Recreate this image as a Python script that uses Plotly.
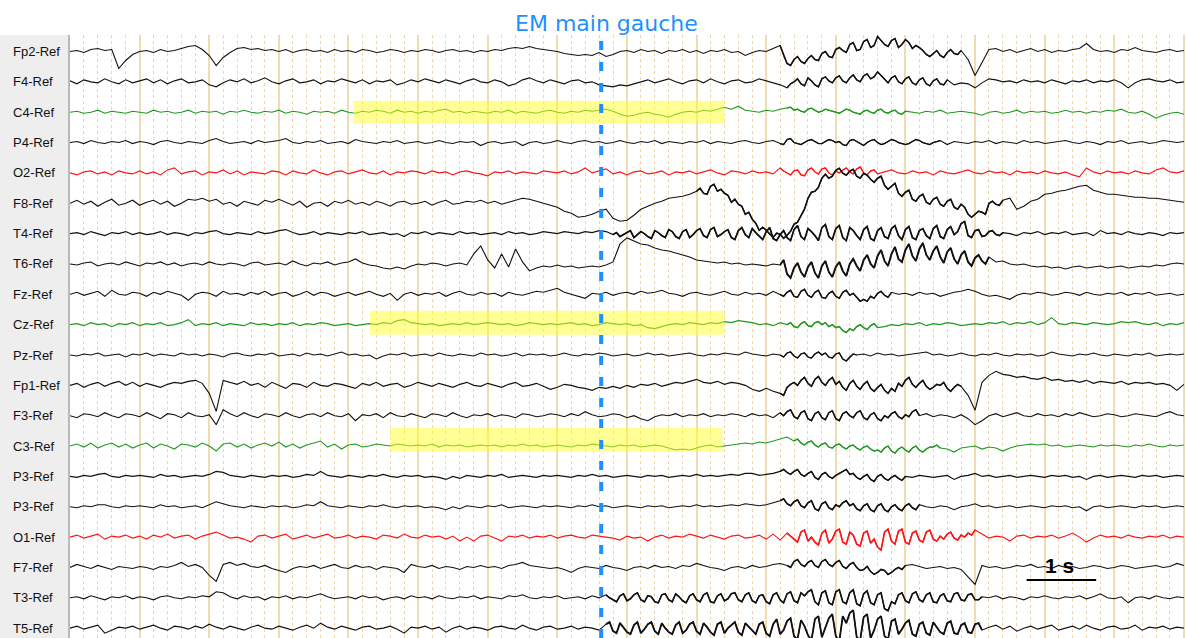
import plotly.graph_objects as go

# ---------------- data ----------------
sample_step = 0.1  # seconds between samples

channel_names = ["Fp2-Ref", "F4-Ref", "C4-Ref", "P4-Ref", "O2-Ref", "F8-Ref", "T4-Ref", "T6-Ref",
                 "Fz-Ref", "Cz-Ref", "Pz-Ref", "Fp1-Ref", "F3-Ref", "C3-Ref", "P3-Ref", "P3-Ref",
                 "O1-Ref", "F7-Ref", "T3-Ref", "T5-Ref"]
channel_groups = ["k", "k", "g", "k", "r", "k", "k", "k", "k", "g", "k", "k", "k", "g", "k", "k",
                  "r", "k", "k", "k"]

fp2 = [0, 1, -1, 2, 3, 1, 2, -17, -9, -3,
       0, 1, -1, 2, 0, 1, 3, 5, 6, 2,
       -4, -14, -6, -1, 3, 4, 2, 3, 1, 2,
       0, 2, -1, 1, 2, 0, 1, -1, 2, 0,
       1, -1, 2, 1, -1, 0, 2, 1, -1, 1,
       0, 2, 1, -1, 1, 2, 0, 1, -1, 1,
       0, 2, 1, 3, 4, 3, 5, 3, 2, 1,
       0, -2, -3, -4, -3, -4, -1, -5, -3, 0,
       1, -1, 2, 0, 1, -2, 1, 0, 2, -1,
       1, -2, 1, 0, 2, -1, 0, -4, -1, 1,
       0, 3, 6, -12, -8, -10, -7, -8, -2, -5,
       2, 1, 7, 1, 10, 4, 15, 7, 11, 4,
       12, 3, 4, -3, -2, -4, -1, -2, 1, -8,
       -24, -11, 2, 3, 0, 2, -1, 1, 3, 0,
       2, -1, 1, 0, 2, 3, 8, 2, 0, 1,
       -1, 2, 1, 4, 1, 0, -1, 1, 2, 0,
       1]
f4 = [1, -2, 2, 0, -1, 3, 0, -2, 2, -1,
      1, 3, -1, 2, -2, 1, 3, -1, 0, 2,
      -3, -5, -1, 2, 0, 3, -1, 1, 4, 0,
      -2, 1, 3, -1, 0, 2, -2, 1, 0, 3,
      1, -1, 2, -2, 1, 0, 2, -3, -1, 2,
      0, 3, 1, -1, 2, 0, -2, 1, 3, 0,
      -1, 2, 0, -4, -2, 2, 4, 1, -1, 2,
      0, -2, 1, 2, -1, 0, -3, -4, -5, -3,
      -4, -2, 0, 2, -1, 1, 3, 0, -2, 1,
      2, -1, 3, 0, -2, 1, 2, -1, 0, 3,
      1, -1, -3, -6, 0, -2, 4, -3, 3, 1,
      4, 1, 4, 2, 6, 3, 10, 2, 4, 0,
      3, -1, 2, -2, 1, -2, 2, -3, -1, -2,
      -6, -1, 3, 2, 0, 1, -1, 2, 0, 1,
      -1, 2, 0, -2, 1, 0, 2, -1, 1, 0,
      2, -1, -6, -1, 2, 3, 1, 0, 2, -1,
      0]
c4 = [0, 1, -1, 0, 2, -1, 1, 0, -1, 1,
      0, -1, 2, 0, 1, -1, 0, 2, -1, 1,
      0, 1, -2, 1, 0, 2, 0, -1, 1, 0,
      2, -1, 1, 0, -2, 1, 0, 1, -1, 2,
      0, -1, 1, 0, 2, 1, -1, 2, 0, 1,
      -1, 1, 0, 2, 3, 0, 1, -1, 1, 0,
      -1, 1, 0, 2, -1, 1, 0, -1, 1, 2,
      0, -1, 1, 0, 2, 1, 2, 3, 1, -2,
      -4, -3, -1, 0, -2, -3, -5, -2, 0, 1,
      0, 2, 1, 3, 5, 3, 6, 2, 1, 0,
      2, 1, 3, 4, 2, 1, 3, 2, 1, 2,
      0, 1, 2, -1, 1, 0, 2, 0, 1, -1,
      1, 0, -1, 1, 0, 2, -1, 0, 1, 0,
      -1, -3, 0, 1, -1, 0, 2, -1, 1, 0,
      1, -1, 0, 2, 0, 1, -1, 1, 0, 2,
      1, 3, 0, -1, 1, -2, -6, -3, -1, 0,
      -2]
p4 = [0, 1, -1, 2, 0, -1, 1, 0, 2, -1,
      1, 0, -2, 1, 2, 0, -1, 1, 0, -1,
      2, 4, 1, -1, 0, 1, -1, 2, 0, 1,
      2, 4, 0, -1, 1, 0, 2, -1, 0, 1,
      -1, 3, 1, 0, -1, 1, 0, 2, -1, 0,
      1, -1, 0, 2, 0, -1, 1, 0, 1, -3,
      0, 1, -1, 0, 1, -3, 0, 1, -1, 0,
      2, 0, -1, 1, 2, 0, 1, -1, 0, 2,
      0, -1, 1, 0, 2, -1, 1, 0, -1, 1,
      0, 2, -1, 1, 0, -1, 1, 2, 0, -1,
      1, 2, -1, 3, 0, -2, 2, 1, -1, 3,
      0, -2, 2, 1, -3, 2, 0, -1, 3, 0,
      -2, 1, 2, -1, 0, 2, -2, 1, 0, -1,
      1, 0, 2, -1, 1, 0, -1, 2, 0, 1,
      -1, 0, 1, 2, 0, -1, 1, 0, -2, 1,
      0, 2, -1, 0, 1, -1, 0, 2, 1, 0,
      1]
o2 = [0, -2, 1, 2, -1, 1, -2, 2, 0, -1,
      2, -1, 1, -2, 3, 5, -1, 1, 2, -2,
      1, 0, 3, -1, 2, -2, 1, 0, -1, 2,
      1, -2, 2, 0, -1, 3, 0, -2, 1, 2,
      -1, 1, 3, 0, -1, 2, -2, 1, 0, 2,
      1, -1, 2, 0, 1, -2, 1, 2, 0, -1,
      -3, 1, 0, 2, -1, 1, 0, -1, 2, 1,
      0, 2, -1, 1, 5, 0, 2, 4, -1, 1,
      -2, 1, 2, -1, 0, 2, -2, 1, 0, 2,
      -1, 1, 3, 0, -2, 2, 1, -1, 2, 0,
      1, -1, 5, 0, 2, -2, 3, 1, 4, 0,
      2, 3, 1, 4, 0, 2, -1, 1, 3, 0,
      -1, 2, 0, 1, -2, 2, 0, -1, 1, 3,
      0, -1, 2, 0, 1, -2, 2, 0, 1, -1,
      2, 0, -1, 1, -2, -4, 5, 1, -1, 2,
      0, 1, -1, 2, 0, -1, 3, 5, 1, 0,
      2]
f8 = [0, 3, -1, 2, -3, 1, 4, -2, 0, 3,
      -2, 1, 3, -1, 2, -3, 0, 4, 3, 5,
      2, 4, -1, 1, -3, 2, 0, -2, 3, 1,
      4, 1, -2, 2, -4, 0, 1, -3, 2, 0,
      3, -1, 1, -2, 2, 0, -3, 1, 2, -1,
      0, 2, -2, 1, 3, -1, 0, 2, 1, 3,
      0, 2, -1, 1, 3, 5, 4, 2, 0, -2,
      -4, -8, -10, -14, -13, -11, -8, -6, -15, -18,
      -17, -12, -6, -3, 0, 2, 5, 6, 7, 9,
      12, 10, 17, 12, 10, 1, -1, -11, -16, -27,
      -27, -34, -31, -32, -21, -12, 5, 12, 25, 25,
      33, 30, 32, 27, 30, 24, 25, 18, 17, 10,
      11, 4, 7, 1, 4, -1, 2, -4, -1, -11,
      -11, -9, 0, -1, 3, 5, -6, -3, 2, 4,
      9, 10, 12, 13, 15, 17, 18, 13, 11, 9,
      9, 8, 7, 6, 6, 5, 5, 4, 3, 2,
      1]
t4 = [0, 1, -1, 2, 0, -2, 1, 0, 2, -1,
      1, -1, 0, 2, -1, 1, 0, -2, 1, 0,
      2, 3, 0, -1, 1, 0, -1, 2, 0, 1,
      3, 4, 1, -1, 0, 2, -1, 1, 0, -1,
      1, 0, 2, -1, 0, 1, -1, 0, -3, 1,
      0, 2, -1, 1, 0, -1, 2, 0, 1, -1,
      0, 1, -1, 2, 0, 1, -1, 0, 2, 1,
      0, 2, 1, 0, 2, 1, 3, 2, -1, -3,
      1, -4, 2, -3, 3, -2, 4, -3, 2, -4,
      3, -2, 4, -3, 2, -4, 3, -1, 5, -3,
      2, -5, -1, -4, 4, -3, 5, -2, 6, -3,
      5, -4, 6, -2, 4, -5, 3, -3, 5, -2,
      4, -4, 3, -2, 5, -3, 4, -1, 10, -2,
      3, -3, 2, -1, 1, 0, -2, 1, 0, 2,
      -1, 1, 0, 2, -1, 0, 1, -2, 3, 0,
      1, -1, 2, 0, -1, 1, 0, -2, 1, 0,
      1]
t6 = [0, -1, 1, 2, -2, 0, 1, -1, 2, 0,
      -2, 1, 0, 2, -1, 1, -2, 0, 1, -1,
      2, 0, -1, 1, 0, -2, 1, 2, -1, 0,
      1, -1, 3, 0, -2, 1, 0, 2, -1, 1,
      2, 5, 1, -1, -2, -4, -5, -3, -5, -2,
      0, -1, 1, 0, -2, 0, 1, -1, 10, 18,
      4, -4, 10, -3, 15, 2, -7, -4, -2, -3,
      -1, -3, -2, -4, -3, -2, -3, -1, 2, 20,
      26, 23, 20, 19, 16, 14, 13, 11, 9, 7,
      4, 3, 2, 1, 2, 0, 1, -1, 0, -1,
      -2, 0, -1, -10, -4, -8, -3, -9, -2, -8,
      -3, -7, 0, -2, 4, 0, 8, 3, 10, 5,
      14, 8, 15, 9, 13, 7, 12, 5, 9, 2,
      6, 3, 7, 2, 3, 0, -1, 0, -2, -3,
      -2, -4, -3, -5, -3, -2, -4, -3, -2, -4,
      -3, -2, -4, -3, -2, -3, -1, -2, 0, 1,
      0]
fz = [0, 2, -1, 1, 3, -2, 4, 0, -1, 2,
      1, -2, 2, 0, 3, 1, -1, -6, 0, 2,
      1, -2, 3, 0, 1, -1, 2, 0, 3, -1,
      1, 2, -2, 0, 3, -1, 2, 1, -2, 0,
      2, -1, 1, 3, 0, -2, 1, -6, 0, 2,
      -1, 1, 0, 2, -2, 1, 3, 0, -1, 2,
      0, 1, -2, 2, 0, -1, 1, 3, 2, 4,
      6, 2, 0, -2, -4, 1, 0, 2, -1, 1,
      2, 0, 3, 1, 2, 4, 1, 0, -2, 1,
      2, 0, -1, 1, 3, 0, -1, 2, 0, 1,
      -1, 3, 0, 2, -2, 3, -1, 2, -3, 1,
      -2, 2, -1, -3, -5, -2, 1, -1, 2, 0,
      1, -1, 2, 0, 1, -2, 0, 2, 3, 5,
      3, 0, -2, -1, -3, -5, -1, 1, 0, 2,
      1, -1, 0, 2, 1, -1, 2, 0, -1, 1,
      0, 2, -1, 1, 0, 2, -1, 0, 1, -1,
      0]
cz = [0, 1, -1, 2, 0, 1, -2, 1, 0, 2,
      -1, 1, 0, 2, -1, 0, 2, 5, -1, 1,
      0, 2, -1, 1, 0, -1, 2, 0, 1, -1,
      1, 0, 2, -1, 1, 0, 2, 1, -1, 0,
      1, -1, 0, 1, 0, 2, 1, 4, 5, 2,
      1, 0, 1, -1, 0, 1, 0, 2, 0, 1,
      2, 1, 0, 1, -1, 0, 2, 1, 0, 1,
      0, 1, 2, 0, 1, -1, 0, 2, 1, 0,
      1, -1, 0, -3, -4, -2, 0, 1, 0, 2,
      1, 0, 2, 1, 3, 2, 4, 3, 2, 0,
      1, -1, 2, 0, -2, 1, -1, 2, 0, -2,
      -3, -6, -4, -2, -3, -1, -3, -2, 0, -1,
      1, 0, 2, -1, 1, 0, 2, 1, -1, 0,
      1, 0, 2, 1, 3, 0, 2, 1, 3, 0,
      2, 7, 1, 0, 2, 1, 0, 2, 1, 0,
      1, 3, 2, 3, 1, 0, 2, -1, 1, 0,
      2]
pz = [0, -1, 1, 0, 2, -1, 0, 1, -2, 1,
      0, 2, -1, 1, 0, -1, 2, 0, 1, -1,
      1, 0, -2, 1, 2, 0, -1, 1, 0, 2,
      -1, 0, 1, -1, 2, 0, 1, -1, 1, 3,
      0, 1, -1, 0, -4, -1, 1, 0, 2, -1,
      0, 1, -1, 2, 0, -1, 1, 0, -1, 2,
      0, 1, -1, 0, 2, -1, 1, 0, 1, -1,
      0, 2, 0, -1, 1, 0, 2, 1, -1, 0,
      1, -1, 0, 2, 0, 1, -1, 0, 1, 2,
      0, -1, 1, 0, 2, 1, 0, 3, 1, 0,
      -1, 1, 0, 2, -1, 1, -2, 1, 0, -2,
      1, -4, -2, 0, 1, -1, 2, 0, 1, -1,
      0, 1, 2, 3, 0, 1, -1, 0, 2, 0,
      -1, 1, 0, 2, 0, -1, 1, 0, 1, -1,
      0, 3, 1, 0, -1, 1, 0, 2, 0, -1,
      1, 0, -1, 1, 0, 2, -1, 0, 1, 0,
      1]
fp1 = [0, 2, -2, 1, 3, -1, 2, 4, 0, 3,
       -1, 2, 0, -2, 1, 3, 2, 4, 5, 2,
       -8, -26, 5, 3, 1, 4, 0, 2, -2, 3,
       0, -3, 2, 1, -2, 3, 0, -1, 2, 1,
       -1, -3, 2, 0, 3, -1, 1, 2, -2, 0,
       3, 1, -1, 2, 0, -2, 1, 3, 0, -1,
       2, 0, -2, 1, 3, -1, 0, 2, -1, -4,
       -2, 1, 0, -2, -3, -5, -2, -3, -1, -3,
       0, -2, 1, 0, 2, -1, 1, 3, 2, 4,
       6, 3, 2, 4, 1, 3, 2, 0, -4, -6,
       -3, -6, -8, -2, 3, 5, 2, 6, 3, 5,
       1, -2, 2, -1, 1, -3, -2, -5, -3, 2,
       5, 1, 2, -1, -2, 0, -3, -2, -1, -10,
       -25, 3, 10, 14, 11, 10, 8, 9, 7, 6,
       8, 5, 6, 4, 5, 3, 5, 2, 4, 3,
       2, 4, 1, 3, 2, 3, 1, 2, 0, -5,
       1]
f3 = [0, -2, 2, 1, -1, 3, 0, -2, 2, 1,
      -1, 3, 0, -3, 2, 1, -2, 3, 0, -1,
      1, -9, 6, 2, -1, 3, 0, -2, 2, 1,
      -1, 3, 0, -2, 1, 2, -1, 3, 0, -1,
      2, -5, 1, 0, 2, -2, 3, 0, -1, 2,
      0, -2, 2, 1, -1, 3, 0, -2, 1, 0,
      2, -1, 1, 0, -2, 2, 1, -1, 0, 2,
      1, -1, 2, 0, 4, 1, -1, 0, 2, 1,
      -2, 0, -3, -5, -1, 1, 0, 2, -1, 1,
      0, 2, -1, 1, 0, 2, 1, -1, 2, 0,
      1, -2, 3, 4, -1, 3, -3, 2, -2, 3,
      -3, 2, 0, 3, -2, 1, -3, 0, 2, -1,
      1, 4, 0, 2, -1, 1, 0, -2, 1, -3,
      -9, -5, 0, 2, -1, 1, 3, 0, -1, 2,
      0, 1, -1, 2, 0, 3, 1, -1, 0, 2,
      1, -1, 0, 2, 1, 0, -1, 2, 4, 1,
      0]
c3 = [0, 2, -1, 3, -2, 1, 3, -1, 2, -2,
      1, 3, -2, 2, 0, -3, 2, 1, -1, 3,
      0, -5, 2, 3, -1, 2, -2, 1, 3, 0,
      4, -1, 2, -2, 1, 3, 5, -1, 2, -3,
      1, 2, -1, 0, 2, 1, 0, 2, 1, 0,
      1, 0, 2, -1, 1, 0, 1, -1, 0, 1,
      0, 1, -1, 1, 0, 2, 0, 1, -1, 0,
      1, 0, -1, 1, 0, 2, 1, 0, -1, 1,
      0, 1, -1, 0, 1, 0, -2, -4, -3, -4,
      -2, 0, 1, -1, 0, 1, 2, 3, 2, 4,
      3, 5, 7, 9, 5, 3, 4, 1, 2, -1,
      1, -1, 0, -2, -1, -3, -4, -2, -5, -3,
      -4, -2, -4, -3, -1, -2, -3, -6, -2, -1,
      0, -3, -1, -2, -5, -2, 0, 1, 2, 1,
      2, 0, 1, -1, 0, 1, 0, -1, 1, 0,
      1, 0, -1, 1, 0, 2, 0, -1, 1, 0,
      1]
p3_a = [0, -1, 1, 0, 2, 3, 0, -1, 1, 0,
        1, 0, -1, 2, 0, 1, -1, 0, 1, 0,
        2, 5, 4, 1, 0, -1, 1, 0, -1, 1,
        0, 1, -1, 0, 2, 1, 5, 1, 0, -1,
        1, 0, -1, 1, 0, 2, 0, -1, 1, 0,
        1, -1, 0, -1, -3, 0, -2, 1, 0, -1,
        1, 0, 2, -1, 0, 1, 0, -1, 1, 0,
        1, 0, -1, 1, 0, 2, 0, 1, -1, 0,
        1, 0, -1, 1, 0, 1, -1, 0, 1, 0,
        2, 0, 1, 0, 1, 2, 1, 3, 3, 1,
        2, 3, 5, 4, 5, 2, 3, -1, 2, 0,
        1, 5, 2, -1, 0, -3, 0, -2, -1, -2,
        0, -1, 1, 0, -1, 0, 1, -3, 0, 1,
        3, 0, 1, -1, 0, 1, -1, 0, 1, 0,
        -1, 1, 0, 1, -1, 0, -3, 0, 1, -1,
        0, 1, 0, -1, 1, 0, 1, -1, 0, 1,
        0]
p3_b = [0, -1, 1, 0, 2, 2, 0, -1, 1, 0,
        1, 0, -1, 2, 0, 1, -1, 0, 1, -1,
        2, 5, 3, 1, 0, -1, 1, 0, -1, 1,
        0, 1, -1, 0, 2, 1, 5, 1, 0, -1,
        1, 0, -1, 1, 0, 2, 0, -1, 1, 0,
        1, -1, 0, -1, -3, 0, -2, 1, 0, -1,
        1, 0, 2, -1, 0, 1, 0, -1, 1, 0,
        1, 0, -1, 1, 0, 2, 0, 1, -1, 0,
        1, 0, -1, 1, 0, 1, -1, 0, 1, 0,
        2, 0, 1, 0, 1, 2, 1, 3, 2, 1,
        2, 4, 6, 3, 5, 1, 4, -2, 3, -1,
        2, 4, 1, -2, 1, -3, 1, -3, 0, -2,
        1, -1, 2, 0, -1, 1, 0, -3, 0, 1,
        3, 0, 1, -1, 0, 1, -1, 0, 1, 0,
        -1, 1, 0, 1, -1, 0, -4, 0, 1, -1,
        0, 1, 0, -1, 1, 0, 1, -1, 0, 1,
        0]
o1 = [0, 2, -1, 1, 3, -2, 1, 0, 2, -1,
      1, -2, 2, 0, 3, -1, 1, 2, -2, 1,
      3, 5, 2, -1, 0, -2, -5, 1, 2, -1,
      1, 3, -2, 0, 2, -1, 1, 3, -1, 0,
      2, -1, 1, 0, -2, 2, 1, -1, 3, 0,
      -1, 2, 0, 1, -2, 1, -4, 0, -4, 1,
      2, -1, -4, 1, 0, 2, -1, 1, 0, 2,
      -1, 1, 2, 0, -1, 2, 1, 0, -1, -3,
      1, -1, 0, -4, 0, 2, -1, 1, 0, 3,
      1, -1, 2, 0, -2, 1, 2, -1, 0, 2,
      -2, 3, -3, 4, -2, 5, -4, -5, 4, -6,
      6, -5, 5, -7, 4, -6, -10, 5, -4, 6,
      -5, 4, -3, 5, -2, 1, 3, -1, 2, 4,
      7, 3, -1, 1, 0, -4, 1, 2, -1, 1,
      0, 2, -1, 1, 4, 0, -5, -1, 2, 0,
      1, -1, 2, 0, -1, 1, 0, 2, -1, 1,
      0]
f7 = [0, 3, 1, -1, 2, 0, -2, 1, 0, -1,
      1, 0, -2, 1, 0, 2, 5, 1, 3, 0,
      -8, -14, 3, 5, 2, 4, 1, 0, 2, -1,
      -3, -5, -1, 1, 0, 2, -1, 1, 3, 0,
      -1, 2, 0, 1, -2, 1, 0, -1, -5, 3,
      1, 0, 2, -1, 1, 0, -2, 1, 0, 2,
      0, 1, -1, 2, 3, 5, 2, 1, 0, -1,
      0, -2, -5, -1, 1, 0, -1, 2, 0, -1,
      -3, 0, 1, -1, 2, 0, 1, -1, 2, 1,
      4, 2, 0, -1, -3, 0, 1, -1, 2, 0,
      1, 3, 4, 2, 6, 3, 5, 2, 6, 3,
      5, 1, 3, 0, -2, -4, -5, -3, -5, 0,
      2, 3, 1, -1, 0, 1, -1, 0, -2, -10,
      -17, 2, 0, 1, -1, 0, 2, 1, 3, 0,
      1, -1, 2, 0, 1, -1, 0, 2, 1, -1,
      0, 2, 1, -1, 0, 1, 2, 0, 1, 4,
      2]
t3 = [0, 1, -1, 2, 0, -2, 1, 0, 2, -1,
      1, 0, -2, 1, 2, 0, -1, 1, 0, 2,
      1, 6, 5, 1, -1, 2, 0, 1, -2, 1,
      0, 2, -1, 1, 0, 2, 4, 1, -1, 0,
      1, -1, 2, 0, 1, -2, 0, 1, -1, 2,
      0, 1, -1, 2, 0, -1, 1, 0, 2, -1,
      1, 0, -1, 2, 1, 3, 0, -1, 1, 0,
      2, -1, 0, 1, -1, 2, 0, 3, -2, 2,
      -3, 3, -2, 2, -4, 3, -2, 4, -3, 2,
      -2, 3, -4, 2, -3, 4, -2, 3, -3, 2,
      -4, 3, -2, 4, -3, 5, 6, -4, 5, -5,
      6, -4, 5, -6, 4, -5, 3, -11, -4, 3,
      -3, 4, -2, 3, -4, 2, -3, 4, -2, 3,
      -2, 1, 0, 2, -1, 1, 0, -2, 1, 0,
      2, 0, -1, 1, 0, 2, -1, 1, 4, 0,
      -1, 1, -5, 0, 1, -1, 2, 0, -1, 1,
      0]
t5 = [0, 2, -1, 1, 3, -5, -2, 1, 0, 2,
      -1, 1, 3, 0, -2, 2, 1, -1, 2, 0,
      4, 1, -1, 2, 0, -2, 1, 3, 0, -1,
      2, 0, -2, 1, 3, 0, 5, 1, -1, 2,
      0, -2, 1, 2, -1, 0, 2, -1, -5, 1,
      0, 2, -1, 1, -4, 0, 2, -1, 1, 0,
      -2, 1, 2, 0, -1, 3, 0, -2, 1, 2,
      -1, 0, 2, -1, 1, 0, -2, 4, -3, 5,
      -4, 3, -5, 4, -3, 5, -4, 3, -5, 4,
      -3, 5, -4, 4, -5, 3, -4, 5, -3, 4,
      -5, 4, -6, 7, -8, 8, -7, 9, -9, 10,
      -8, 12, 15, -9, 11, -10, 9, -8, 7, -6,
      5, -6, 4, -5, 6, -4, 5, -5, 3, -4,
      4, -2, 1, 3, -1, 2, -3, 0, 2, -1,
      1, 3, -2, 0, 2, -1, 3, 0, -2, 1,
      2, -1, 0, 3, -2, 1, 0, 2, -1, 1,
      0]

# half-step samples read inside the muscle-artifact stretches
fp2_mid = [-4, -14, -5, -12, -4, -9, 0, -6, 4, -1, 9, 2, 12, 6, 11, 5, 13, 7, 9, 6, 1, -5, 1, -6, 2, -3]
f4_mid = [-2, 3, -4, 1, -5, 5, -1, 6, -1, 7, 0, 8, 5, 6, -1, 6, -2, 5, -3, 4, -4, 3, -3]
c4_mid = [5, 3, 0, 4, 0, 3, 1, -1, 3, 0, -2, 2, -1, 3, -1, 2, -2]
p4_mid = [-2, 4, -1, 0, 3, -1, 1, 2, 1, -3, 3, -1, 0, 3, -2, 1, 2, -1, -1, 3, 0, -2, 1]
o2_mid = [2, -2, 3, -3, 5, -1, 5, -2, 0, 5, -1, 6, -2, 3]
f8_mid = [15, 9, 19, 14, 8, 4, -3, -9, -20, -24, -31, -30, -35, -28, -19, -6, 11, 16, 29, 27,
          35, 28, 34, 25, 28, 21, 27, 14, 20, 7, 13, 2, 9, -1, 6, -3, 4, -6, -4, -14, -8, -11, 2, -2]
t4_mid = [1, -1, 3, -1, 0, -5, 1, -4, 2, -5, 4, -1, 5, -4, 6, -1, 4, -6, 6, -4,
          1, -6, 6, -7, 3, -7, 8, -6, 2, -7, 9, -6, 8, -7, 3, -6, 7, -7, 6, -5,
          8, -6, 7, -6, 5, -5, 8, -5, 7, 2, 12, -4, 4, -2, 3, -2]
t6_mid = [4, -14, 1, -13, 2, -14, 3, -13, 2, -12, 5, -7, 9, -4, 14, -2, 17, 2, 20, 3,
          21, 4, 18, 1, 16, 0, 13, -2, 9, 0]
fz_mid = [-2, 4, -3, 5, -3, 4, -4, 3, -4, 4, 1, -7, -7, -4, 3, -3]
cz_mid = [2, -3, 3, -2, 3, 2, 0, -2, -8, -6, 0, -5, 1]
pz_mid = [-2, 3, -3, 2, -3, 3, 2, -3, 2, -6, 1]
fp1_mid = [-10, 1, 0, 8, -1, 9, 0, 8, 4, -5, 5, -4, 4, -6, 1, -8, -6, -1, 8, -2, 5, -4, 1, 3, -6, 1]
f3_mid = [0, 6, -3, 5, -5, 4, -4, 5, -5, 4, -2, 5, -4, 3, -5, -2, 4, -3, -1, 6]
c3_mid = [7, 1, 5, -1, 3, -2, 2, -3, 1, -4, 0, -5, -6, 0, -7, -1, -6, 0, -6, -1, 1]
p3_a_mid = [7, 2, 7, 0, 5, -3, 4, -2, 3, 7, 3, -3, 2, -5, 2, -4, 1, -4]
p3_b_mid = [8, 1, 7, -1, 6, -4, 5, -3, 0, 6, 3, -4, 3, -5, 3, -5, 2, -4, 3, -3]
o1_mid = [1, -5, 7, 0, -8, 7, -2, 8, -7, 2, -9, 6, -2, -13, 8, -7, 8, -7, 6, -5, 7, -4, -2, 5, -3, 0, 2]
f7_mid = [0, 8, 1, 7, 0, 8, 1, 7, -1, 5, -3, 1, -7, -2, -7, -2, -2]
t3_mid = [0, -4, 4, -1, 5, -4, 1, -5, 4, -4, 1, -5, 4, -4, 5, -5, 4, -1, 5, -4,
          5, -5, 3, -6, 5, -5, 6, -5, 2, 8, -7, 7, -7, 8, -6, 8, -8, 7, -7, 5,
          -13, -6, 5, -5, 6, -4, 5, -5, 4, -4, 5, -3, 4, -2]
t5_mid = [6, -5, 1, -6, 6, -1, 6, -6, 0, -6, 6, -2, 6, -6, 1, -7, 6, 0, 6, -7,
          1, -6, 6, -8, 9, -2, 10, -11, 2, -12, 12, 0, 14, -13, 5, 18, -12, 14, -2, 12,
          -11, 9, -1, 8, -8, 6, -7, 1, -6, 7, -6, 5, -5, 5]

signals = [fp2, f4, c4, p4, o2, f8, t4, t6, fz, cz, pz, fp1, f3, c3, p3_a, p3_b, o1, f7, t3, t5]
mid_signals = [fp2_mid, f4_mid, c4_mid, p4_mid, o2_mid, f8_mid, t4_mid, t6_mid, fz_mid, cz_mid,
               pz_mid, fp1_mid, f3_mid, c3_mid, p3_a_mid, p3_b_mid, o1_mid, f7_mid, t3_mid, t5_mid]

# muscle-artifact stretches (start s, end s) per channel row
artifact_start = [10.2, 10.3, 10.3, 10.2, 10.2, 9.0, 7.8, 10.2, 10.2, 10.3,
                  10.2, 10.2, 10.2, 10.4, 10.2, 10.2, 10.3, 10.3, 7.7, 7.7]
artifact_end = [12.8, 12.6, 12.0, 12.5, 11.6, 13.4, 13.4, 13.2, 11.8, 11.6,
                11.3, 12.8, 12.2, 12.5, 12.0, 12.2, 13.0, 12.0, 13.1, 13.1]

highlight_rows = ["C4-Ref", "Cz-Ref", "C3-Ref"]
highlight_start = [4.07, 4.31, 4.60]
highlight_end = [9.40, 9.40, 9.37]

event_time = 7.63
event_label = "EM main gauche"
scale_start = 13.74
scale_length = 1.0
scale_label = "1 s"
total_seconds = 16.03

# ---------------- styling / layout constants ----------------
W, H = 1186, 638
LEFT, TOP = 70, 35
FIRST_ROW_PX = 51.5
ROW_STEP_PX = 30.35
COLORS = {"k": "#111111", "g": "#1f991f", "r": "#ff1414"}
ARTIFACT_WIDTH = [1.5, 1.4, 1.3, 1.3, 1.2, 1.6, 1.7, 1.9, 1.4, 1.4,
                  1.3, 1.5, 1.5, 1.3, 1.5, 1.6, 1.6, 1.5, 1.6, 1.8]
HIGHLIGHT_PAD = {"C4-Ref": (11.5, 11.5), "Cz-Ref": (14.0, 10.0), "C3-Ref": (18.0, 5.5)}


def row_center(i):
    return -(FIRST_ROW_PX + ROW_STEP_PX * i)


fig = go.Figure()

for i, (grp, sig, mids) in enumerate(zip(channel_groups, signals, mid_signals)):
    base = row_center(i)
    k0 = int(round(artifact_start[i] / sample_step))
    xs, ys = [], []
    for k, v in enumerate(sig):
        xs.append(k * sample_step)
        ys.append(base + v)
        j = k - k0
        if 0 <= j < len(mids) and k + 1 < len(sig):
            xs.append((k + 0.5) * sample_step)
            ys.append(base + mids[j])
    col = COLORS[grp]
    fig.add_trace(go.Scatter(x=xs, y=ys, mode="lines", line=dict(color=col, width=1.1),
                             hoverinfo="skip", showlegend=False))
    a0, a1 = artifact_start[i], artifact_end[i]
    seg = [(x, y) for x, y in zip(xs, ys) if a0 - 1e-9 <= x <= a1 + 1e-9]
    if seg:
        fig.add_trace(go.Scatter(x=[p[0] for p in seg], y=[p[1] for p in seg], mode="lines",
                                 line=dict(color=col, width=ARTIFACT_WIDTH[i]),
                                 hoverinfo="skip", showlegend=False))

shapes = []
plot_w = W - LEFT
# label panel
shapes.append(dict(type="rect", xref="paper", yref="paper", x0=-LEFT / plot_w, x1=-1.5 / plot_w,
                   y0=0, y1=1, fillcolor="#eeeeee", line=dict(width=0), layer="below"))
shapes.append(dict(type="line", xref="paper", yref="paper", x0=-1.0 / plot_w, x1=-1.0 / plot_w,
                   y0=0, y1=1, line=dict(color="#b9b9b9", width=2), layer="above"))

# highlights
for name, s0, s1 in zip(highlight_rows, highlight_start, highlight_end):
    i = channel_names.index(name)
    up, down = HIGHLIGHT_PAD[name]
    c = row_center(i)
    shapes.append(dict(type="rect", xref="x", yref="y", x0=s0, x1=s1, y0=c - down, y1=c + up,
                       fillcolor="rgba(255,255,40,0.5)", line=dict(width=0), layer="above"))

# event marker
shapes.append(dict(type="line", xref="x", yref="paper", x0=event_time, x1=event_time, y0=0, y1=1,
                   line=dict(color="#1e90ff", width=4, dash="9px,12px"), layer="above"))

# scale bar
shapes.append(dict(type="line", xref="x", yref="y", x0=scale_start, x1=scale_start + scale_length,
                   y0=-580, y1=-580, line=dict(color="#000000", width=2), layer="above"))

annotations = []
for i, name in enumerate(channel_names):
    annotations.append(dict(text=name, xref="paper", yref="y", x=-(LEFT - 11) / plot_w, y=row_center(i),
                            xanchor="left", yanchor="middle", showarrow=False,
                            font=dict(family="Liberation Sans, Arial", size=13, color="#111111")))
annotations.append(dict(text=event_label, xref="x", yref="paper", x=event_time + 0.07,
                        y=1 + (TOP - 24) / (H - TOP), xanchor="center", yanchor="middle", showarrow=False,
                        font=dict(family="DejaVu Sans", size=22, color="#1e90ff")))
annotations.append(dict(text="<b>" + scale_label + "</b>", xref="x", yref="y",
                        x=scale_start + scale_length / 2 - 0.03, y=-565, xanchor="center", yanchor="middle",
                        showarrow=False, font=dict(family="Liberation Sans, Arial", size=21, color="#000000")))

fig.update_layout(
    width=W, height=H,
    margin=dict(l=LEFT, r=0, t=TOP, b=0, pad=0),
    paper_bgcolor="white", plot_bgcolor="white",
    showlegend=False,
    xaxis=dict(range=[0, total_seconds], showticklabels=False, ticks="", zeroline=False, showline=False,
               showgrid=True, tick0=0, dtick=1, gridcolor="#f1dbb0", gridwidth=2,
               minor=dict(tick0=0, dtick=0.2, showgrid=True, gridcolor="#f7d49c", gridwidth=1,
                          griddash="dot")),
    yaxis=dict(range=[-H, -TOP], showticklabels=False, ticks="", zeroline=False, showline=False,
               showgrid=False),
    shapes=shapes,
    annotations=annotations,
)

fig.write_html("out.html", config={"displayModeBar": False})
